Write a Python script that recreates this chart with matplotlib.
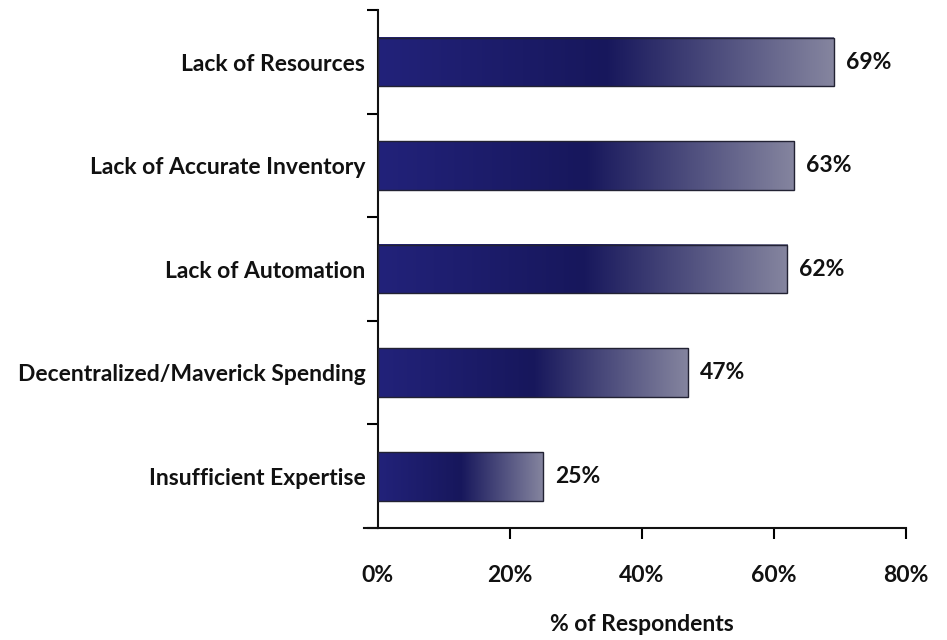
import matplotlib
matplotlib.use('Agg')
import matplotlib.pyplot as plt
import numpy as np
from matplotlib.colors import LinearSegmentedColormap
from matplotlib.lines import Line2D

categories = ['Lack of Resources', 'Lack of Accurate Inventory', 'Lack of Automation',
              'Decentralized/Maverick Spending', 'Insufficient Expertise']
values = [69, 63, 62, 47, 25]
x_ticks = [0, 20, 40, 60, 80]
x_tick_labels = ['0%', '20%', '40%', '60%', '80%']

plt.rcParams['font.family'] = ['Lato', 'DejaVu Sans']
FS = 16.5

# navy -> darker navy -> greyish lavender along each bar
bar_cmap = LinearSegmentedColormap.from_list(
    'navy_fade', [(0.0, '#22227a'), (0.5, '#17175c'), (1.0, '#85859f')])

fig = plt.figure(figsize=(9.47, 6.4), dpi=100)
ax = fig.add_axes([0.399, 0.175, 0.558, 0.809])

n = len(categories)
ypos = np.arange(n)[::-1]  # first category on top
bar_h = 0.47
grad = np.linspace(0, 1, 256).reshape(1, -1)

for y, v in zip(ypos, values):
    ax.imshow(grad, extent=[0, v, y - bar_h / 2, y + bar_h / 2], aspect='auto',
              cmap=bar_cmap, interpolation='bilinear', zorder=2)
    ax.barh(y, v, height=bar_h, facecolor='none', edgecolor='#222233', linewidth=1.0, zorder=3)
    ax.text(v + 1.8, y, f'{v}%', va='center', ha='left', fontsize=FS, fontweight='bold',
            color='#111111')

ax.set_xlim(0, 80)
ax.set_ylim(-0.5, n - 0.5)

ax.set_xticks(x_ticks)
ax.set_xticklabels(x_tick_labels, fontsize=FS, fontweight='bold', color='#111111')
ax.tick_params(axis='x', direction='out', length=8, width=1.5, pad=19)
ax.xaxis.get_major_ticks()[0].tick1line.set_visible(False)

# category labels sit between the boundary ticks on the y axis
ax.set_yticks(ypos)
ax.set_yticklabels(categories, fontsize=FS, fontweight='bold', color='#111111')
ax.tick_params(axis='y', which='major', length=0, pad=9)
ax.set_yticks(np.arange(n + 1) - 0.5, minor=True)
ax.tick_params(axis='y', which='minor', direction='out', length=8, width=1.5)

ax.set_xlabel('% of Respondents', fontsize=FS, fontweight='bold', color='#111111', labelpad=20)

for side in ['top', 'right']:
    ax.spines[side].set_visible(False)
for side in ['left', 'bottom']:
    ax.spines[side].set_linewidth(1.5)
    ax.spines[side].set_color('#111111')

# bottom axis line runs a little past the vertical axis
ax.add_line(Line2D([-0.027, 0], [0, 0], transform=ax.transAxes, color='#111111',
                   linewidth=1.5, clip_on=False))

fig.savefig('out.png', dpi=100)
